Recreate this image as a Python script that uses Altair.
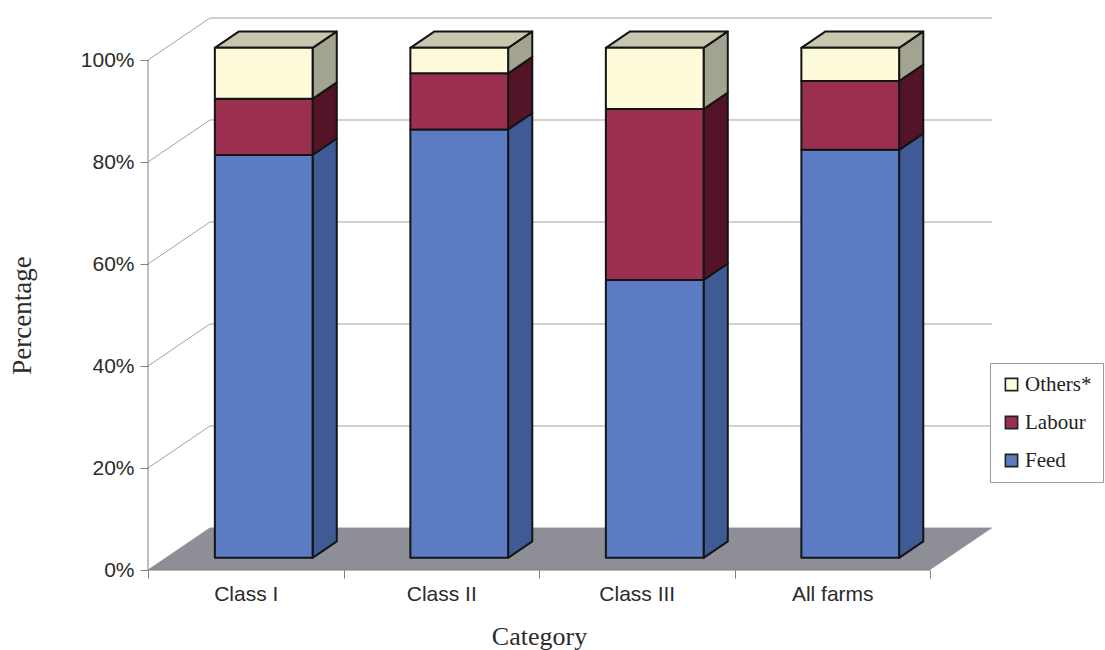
import json

import altair as alt
import pandas as pd

# Cost shares (%) by farm category
categories = ["Class I", "Class II", "Class III", "All farms"]
feed = [79.0, 84.0, 54.5, 80.0]
labour = [11.0, 11.0, 33.5, 13.5]
others = [10.0, 5.0, 12.0, 6.5]
segments = ["Feed", "Labour", "Others*"]
legend_order = ["Others*", "Labour", "Feed"]
y_ticks = [0, 20, 40, 60, 80, 100]

front_colors = {"Feed": "#5b7cc2", "Labour": "#9b2f50", "Others*": "#fdfbd9"}
side_colors = {"Feed": "#3f5b96", "Labour": "#521426", "Others*": "#a3a392"}
top_color = "#c8c6ae"
floor_color = "#8e8e96"
grid_color = "#a3a3a3"
edge = "#141414"
text_color = "#2b2b2b"

# Oblique projection: depth shifts points right (x units) and up (percent units)
DX, DY = 0.317, 8.24
F0, F1 = 0.29, 0.68   # front / back depth of the bars
W = 0.5               # bar width in category units
N = len(categories)

front_rows, side_rows, top_rows = [], [], []
for i, cat in enumerate(categories):
    left = i + 0.5 - W / 2
    lo = 0.0
    for seg, vals in zip(segments, [feed, labour, others]):
        hi = lo + vals[i]
        front_rows.append(dict(category=cat, segment=seg,
                               x=left + F0 * DX, x2=left + W + F0 * DX,
                               y=lo + F0 * DY, y2=hi + F0 * DY))
        for f in (F0, F1):
            side_rows.append(dict(key=f"{cat}|{seg}", shade=side_colors[seg],
                                  x=left + W + f * DX,
                                  y=lo + f * DY, y2=hi + f * DY))
        lo = hi
    for f in (F0, F1):
        top_rows.append(dict(category=cat, y=lo + f * DY,
                             x=left + f * DX, x2=left + W + f * DX))

front_df = pd.DataFrame(front_rows)
side_df = pd.DataFrame(side_rows)
top_df = pd.DataFrame(top_rows)
floor_df = pd.DataFrame({"y": [0.0, DY], "x": [0.0, DX], "x2": [float(N), N + DX]})
back_grid_df = pd.DataFrame({"y": [v + DY for v in y_ticks], "x": DX, "x2": N + DX})
side_grid_df = pd.DataFrame({"x": 0.0, "x2": DX, "y": [float(v) for v in y_ticks],
                             "y2": [v + DY for v in y_ticks]})
front_axis_df = pd.DataFrame({"x": [0.0], "y": [0.0], "y2": [100.0]})
front_edge_df = pd.DataFrame({"x": [0.0], "x2": [float(N)], "y": [0.0]})

xs = alt.Scale(domain=[0, N + DX], nice=False, zero=False)
ys = alt.Scale(domain=[0, 100 + DY], nice=False, zero=False)

x_axis = alt.Axis(
    values=[k / 2 for k in range(2 * N + 1)],
    labelExpr="datum.value % 1 == 0.5 ? " + json.dumps(categories)
              + "[floor(datum.value)] : ''",
    tickOpacity={"condition": {"test": "datum.value % 1 == 0", "value": 1}, "value": 0},
    domain=False, grid=False, tickSize=8, tickColor="#808080",
    labelFont="Liberation Sans", labelFontSize=21, labelColor=text_color,
    labelPadding=5, labelAngle=0,
    title="Category", titleFont="Liberation Serif", titleFontSize=26,
    titleFontWeight="normal", titleColor=text_color,
    titleX=391, titleY=66, titleBaseline="middle", titleAlign="center",
)
y_axis = alt.Axis(
    values=y_ticks, labelExpr="datum.value + '%'",
    domain=False, grid=False, tickSize=8, tickColor="#808080",
    labelFont="Liberation Sans", labelFontSize=21, labelColor=text_color,
    labelPadding=6,
    title="Percentage", titleFont="Liberation Serif", titleFontSize=27,
    titleFontWeight="normal", titleColor=text_color,
    titleX=-126, titleY=297, titleBaseline="middle", titleAlign="center",
    titleAngle=270,
)

X = lambda f="x:Q": alt.X(f, scale=xs)
Y = lambda f="y:Q": alt.Y(f, scale=ys)

back_grid = alt.Chart(back_grid_df).mark_rule(color=grid_color, strokeWidth=1).encode(
    x=alt.X("x:Q", scale=xs, axis=x_axis),
    x2="x2:Q",
    y=alt.Y("y:Q", scale=ys, axis=y_axis),
)
side_grid = alt.Chart(side_grid_df).mark_rule(color=grid_color, strokeWidth=1).encode(
    x=X(), x2="x2:Q", y=Y(), y2="y2:Q",
)
floor = alt.Chart(floor_df).mark_area(orient="horizontal", color=floor_color).encode(
    y=Y(), x=X(), x2="x2:Q",
)
front_axis = alt.Chart(front_axis_df).mark_rule(color="#808080", strokeWidth=1).encode(
    x=X(), y=Y(), y2="y2:Q",
)
front_edge = alt.Chart(front_edge_df).mark_rule(color="#7a7a7a", strokeWidth=1.2).encode(
    x=X(), x2="x2:Q", y=Y(),
)
sides = alt.Chart(side_df).mark_area(stroke=edge, strokeWidth=2, strokeJoin="round").encode(
    x=X(), y=Y(), y2="y2:Q",
    detail="key:N",
    fill=alt.Fill("shade:N", scale=None),
)
tops = alt.Chart(top_df).mark_area(orient="horizontal", fill=top_color, stroke=edge,
                                   strokeWidth=2, strokeJoin="round").encode(
    y=Y(), x=X(), x2="x2:Q",
    detail="category:N",
)
fronts = alt.Chart(front_df).mark_rect(stroke=edge, strokeWidth=2, strokeJoin="round").encode(
    x=X(), x2="x2:Q", y=Y(), y2="y2:Q",
    color=alt.Color(
        "segment:N",
        scale=alt.Scale(domain=legend_order, range=[front_colors[s] for s in legend_order]),
        sort=legend_order,
        legend=alt.Legend(
            title=None, orient="none", legendX=842, legendY=345, direction="vertical",
            strokeColor="#9a9a9a", fillColor="white", padding=11,
            symbolType="square", symbolSize=150, symbolStrokeColor="#222222",
            symbolStrokeWidth=1.6, labelFont="Liberation Serif", labelFontSize=21,
            labelColor="#222222", rowPadding=16, labelOffset=3,
        ),
    ),
)

chart = alt.layer(
    back_grid, side_grid, floor, front_axis, front_edge, sides, tops, fronts
).properties(
    width=844, height=552,
    autosize=alt.AutoSizeParams(type="none"),
    padding={"left": 148, "top": 18, "right": 113, "bottom": 80},
    background="white",
).configure_view(stroke=None)

chart.save("out.html", embed_options={"renderer": "svg", "actions": False})
